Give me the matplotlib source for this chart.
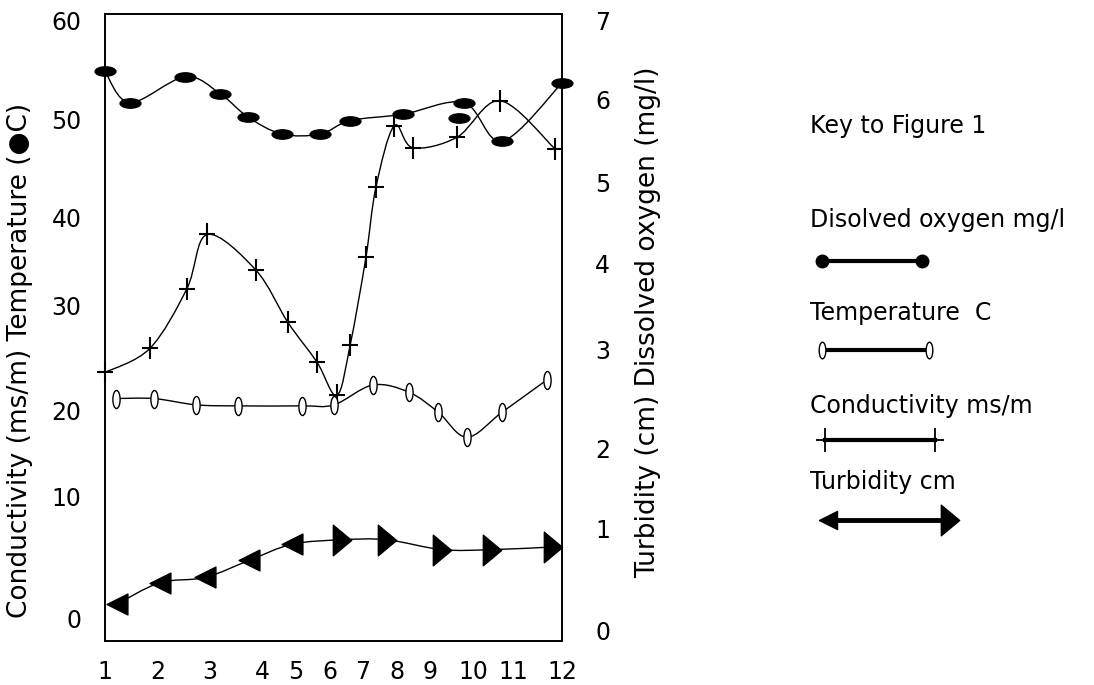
import numpy as np
import matplotlib
matplotlib.use('Agg')
import matplotlib.pyplot as plt
from matplotlib.path import Path
from matplotlib.patches import PathPatch

# ------------------------------------------------------------
# data (x in month units, 1..12)
# ------------------------------------------------------------
month_labels = ['1', '2', '3', '4', '5', '6', '7', '8', '9', '10', '11', '12']
left_labels = ['0', '10', '20', '30', '40', '50', '60']
right_labels = ['0', '1', '2', '3', '4', '5', '6', '7']

# dissolved oxygen (mg/l), right axis
do_x = [1.0, 1.60, 2.93, 3.77, 4.44, 5.26, 6.18, 6.90, 8.17, 9.64, 10.56, 12.0]
do_y = [6.36, 6.01, 6.30, 6.11, 5.85, 5.66, 5.66, 5.81, 5.88, 6.01, 5.58, 6.23]
do_extra_x = [9.52]
do_extra_y = [5.84]

# temperature (C), left axis
temp_x = [1.26, 2.18, 3.19, 4.20, 5.74, 6.51, 7.45, 8.32, 9.02, 9.71, 10.56, 11.64]
temp_y = [23.2, 23.2, 22.6, 22.5, 22.5, 22.6, 24.5, 23.8, 21.9, 19.5, 21.9, 25.0]

# conductivity (ms/m), left axis
cond_x = [1.0, 2.08, 2.97, 3.46, 4.63, 5.40, 6.10, 6.58, 6.90, 7.28, 7.52,
          7.96, 8.41, 9.47, 10.51, 11.83]
cond_y = [25.7, 28.0, 33.7, 38.9, 35.5, 30.5, 26.7, 23.5, 28.3, 36.7, 43.4,
          49.3, 47.2, 48.2, 51.7, 47.1]

# turbidity (cm), right axis; first five drawn with left-pointing markers
turb_x = [1.28, 2.32, 3.41, 4.47, 5.50, 6.70, 7.79, 9.11, 10.32, 11.78]
turb_y = [0.41, 0.65, 0.71, 0.90, 1.08, 1.13, 1.13, 1.02, 1.02, 1.05]
turb_left = 5


def smooth_path(x, y):
    # Catmull-Rom through the points, as cubic Bezier segments
    pts = np.column_stack([x, y]).astype(float)
    n = len(pts)
    verts = [pts[0]]
    codes = [Path.MOVETO]
    for i in range(n - 1):
        p0 = pts[max(i - 1, 0)]
        p1 = pts[i]
        p2 = pts[i + 1]
        p3 = pts[min(i + 2, n - 1)]
        verts += [p1 + (p2 - p0) / 6, p2 - (p3 - p1) / 6, p2]
        codes += [Path.CURVE4] * 3
    return Path(verts, codes)


# marker shapes
circ = Path.unit_circle()
wide_ellipse = Path(circ.vertices * [1.0, 0.45], circ.codes)
tall_ellipse = Path(circ.vertices * [0.4, 1.0], circ.codes)
tall_plus = Path([(-0.38, 0), (0.38, 0), (0, -0.5), (0, 0.5)],
                 [Path.MOVETO, Path.LINETO, Path.MOVETO, Path.LINETO])
tri_left = Path([(-0.5, 0), (0.5, -0.5), (0.5, 0.5), (-0.5, 0)],
                [Path.MOVETO, Path.LINETO, Path.LINETO, Path.CLOSEPOLY])
tri_right = Path([(0.3, 0), (-0.3, -0.5), (-0.3, 0.5), (0.3, 0)],
                 [Path.MOVETO, Path.LINETO, Path.LINETO, Path.CLOSEPOLY])

W, H = 1094, 685
fig = plt.figure(figsize=(W / 100, H / 100), dpi=100)
fig.patch.set_facecolor('white')

ax = fig.add_axes([105 / W, 1 - 641 / H, 457 / W, 627 / H])
ax2 = ax.twinx()

# --- left axis series
ax.add_patch(PathPatch(smooth_path(cond_x, cond_y), fill=False, lw=1.0, ec='black'))
ax.plot(cond_x, cond_y, ls='none', marker=tall_plus, ms=15.5, mew=1.5,
        color='black', clip_on=False)
ax.add_patch(PathPatch(smooth_path(temp_x, temp_y), fill=False, lw=1.0, ec='black'))
ax.plot(temp_x, temp_y, ls='none', marker=tall_ellipse, ms=13, mew=1.0,
        mfc='white', mec='black', clip_on=False)

# --- right axis series
ax2.add_patch(PathPatch(smooth_path(do_x, do_y), fill=False, lw=1.0, ec='black'))
ax2.plot(do_x + do_extra_x, do_y + do_extra_y, ls='none', marker=wide_ellipse,
         ms=15, color='black', clip_on=False)
ax2.add_patch(PathPatch(smooth_path(turb_x, turb_y), fill=False, lw=1.0, ec='black'))
ax2.plot(turb_x[:turb_left], turb_y[:turb_left], ls='none', marker=tri_left,
         ms=15, color='black', clip_on=False)
ax2.plot(turb_x[turb_left:], turb_y[turb_left:], ls='none', marker=tri_right,
         ms=22, color='black', clip_on=False)

# --- axes, scanned tick label placement
ax.set_xlim(1, 12)
ax.set_ylim(0, 60)
ax2.set_ylim(0, 7)
ax.set_xticks([1.0, 2.28, 3.53, 4.78, 5.60, 6.42, 7.19, 8.03, 8.82, 9.86, 10.82, 12.0])
ax.set_xticklabels(month_labels)
ax.set_yticks([2.2, 13.8, 22.1, 32.1, 40.5, 49.9, 59.4])
ax.set_yticklabels(left_labels)
ax2.set_yticks([0.12, 1.26, 2.15, 3.25, 4.22, 5.12, 6.04, 6.93])
ax2.set_yticklabels(right_labels)

ax.tick_params(axis='x', length=0, pad=14, labelsize=17)
ax.tick_params(axis='y', length=0, pad=17, labelsize=17)
ax2.tick_params(axis='y', length=0, pad=24, labelsize=17)
for a in (ax, ax2):
    for s in a.spines.values():
        s.set_linewidth(1.2)
        s.set_color('black')

fig.text(20 / W, 1 - 360 / H, 'Conductivity (ms/m) Temperature (\u25CFC)',
         rotation=90, ha='center', va='center', fontsize=19)
fig.text(648 / W, 1 - 322 / H, 'Turbidity (cm) Dissolved oxygen (mg/l)',
         rotation=90, ha='center', va='center', fontsize=19)

# --- key, drawn in pixel coordinates of the figure
key = fig.add_axes([0, 0, 1, 1])
key.set_xlim(0, W)
key.set_ylim(H, 0)
key.axis('off')
key.patch.set_visible(False)

kx = 810
key.text(kx, 126, 'Key to Figure 1', fontsize=17, va='center')
key.text(kx, 220, 'Disolved oxygen mg/l', fontsize=17, va='center')
key.text(kx, 313, 'Temperature  C', fontsize=17, va='center')
key.text(kx, 406, 'Conductivity ms/m', fontsize=17, va='center')
key.text(kx, 482, 'Turbidity cm', fontsize=17, va='center')

key.plot([822, 922], [261, 261], color='black', lw=3, marker='o', ms=9)
key.plot([822, 929], [350, 350], color='black', lw=3)
key.plot([822, 929], [350, 350], ls='none', marker=tall_ellipse, ms=12,
         mfc='white', mec='black', mew=1.0)
key.plot([825, 935], [440, 440], color='black', lw=3)
key.plot([825, 935], [440, 440], ls='none', marker=tall_plus, ms=17, mew=1.3,
         color='black')
key.plot([826, 952], [520, 520], color='black', lw=3.5)
key.plot([828], [520], ls='none', marker=tri_left, ms=13, color='black')
key.plot([950], [520], ls='none', marker=tri_right, ms=22, color='black')

fig.savefig('out.png', dpi=100)
